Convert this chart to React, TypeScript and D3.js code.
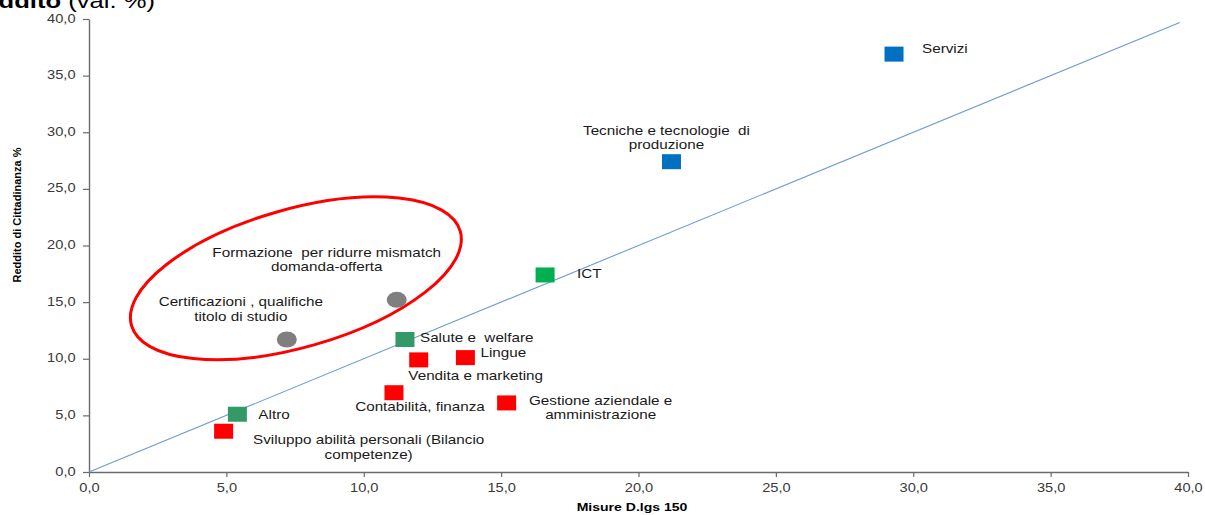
import { useEffect, useRef } from "react";
import * as d3 from "d3";

const W = 1205;
const H = 515;

// one entry per area of training; "\n" splits a label over two lines
const names = [
  "Servizi",
  "Tecniche e tecnologie  di\nproduzione",
  "ICT",
  "Formazione  per ridurre mismatch\ndomanda-offerta",
  "Certificazioni , qualifiche\ntitolo di studio",
  "Salute e  welfare",
  "Lingue",
  "Vendita e marketing",
  "Contabilità, finanza",
  "Gestione aziendale e\namministrazione",
  "Altro",
  "Sviluppo abilità personali (Bilancio\ncompetenze)",
];
// Misure D.lgs 150 (%)
const xValues = [29.3, 21.2, 16.6, 11.2, 7.2, 11.5, 13.7, 12.0, 11.1, 15.2, 5.4, 4.9];
// Reddito di Cittadinanza (%)
const yValues = [36.9, 27.4, 17.4, 15.2, 11.7, 11.7, 10.1, 9.9, 7.0, 6.1, 5.1, 3.6];
const groups = ["blue", "blue", "green", "grey", "grey", "teal", "red", "red", "red", "red", "teal", "red"];

const xTicks = [0, 5, 10, 15, 20, 25, 30, 35, 40];
const yTicks = [0, 5, 10, 15, 20, 25, 30, 35, 40];
const diagonal = [0, 39.7];

// label placement relative to the marker (px) – layout only
const labelLayout: { dx: number; dy: number; anchor: string }[] = [
  { dx: 28, dy: -1, anchor: "start" },
  { dx: -5, dy: -27, anchor: "middle" },
  { dx: 32, dy: 3, anchor: "start" },
  { dx: -70, dy: -43, anchor: "middle" },
  { dx: -46, dy: -33, anchor: "middle" },
  { dx: 15, dy: 3, anchor: "start" },
  { dx: 15, dy: -1, anchor: "start" },
  { dx: 57, dy: 20, anchor: "middle" },
  { dx: 26, dy: 18, anchor: "middle" },
  { dx: 94, dy: 2, anchor: "middle" },
  { dx: 21, dy: 5, anchor: "start" },
  { dx: 145, dy: 13, anchor: "middle" },
];

const colors: Record<string, string> = {
  blue: "#0070C0",
  green: "#00B050",
  teal: "#339966",
  red: "#FF0000",
  grey: "#7F7F7F",
};

const FONT = "'Liberation Sans', Arial, sans-serif";
const SX = 1.22; // the original picture is stretched horizontally

export default function App() {
  const svgRef = useRef<SVGSVGElement>(null);

  useEffect(() => {
    document.body.style.margin = "0";
    if (!svgRef.current) return;
    const svg = d3.select(svgRef.current);
    svg.selectAll("*").remove();

    const x = d3.scaleLinear().domain([0, 40]).range([89, 1188]);
    const y = d3.scaleLinear().domain([0, 40]).range([472, 19]);
    const fmt = (d: d3.NumberValue) => d3.format(".1f")(d as number).replace(".", ",");

    // Title (cut off at the top in the original)
    const title = svg
      .append("text")
      .attr("transform", `translate(155,8) scale(${SX},1)`)
      .attr("text-anchor", "end")
      .style("font-family", FONT)
      .style("font-size", "21px")
      .style("fill", "#000");
    title.append("tspan").style("font-weight", "bold").text("Reddito");
    title.append("tspan").text(" (val. %)");

    // Axes
    const yAxis = svg
      .append("g")
      .attr("transform", "translate(89,0)")
      .call(d3.axisLeft(y).tickValues(yTicks).tickFormat(fmt).tickSize(6).tickSizeOuter(0).tickPadding(5));
    const xAxis = svg
      .append("g")
      .attr("transform", "translate(0,472)")
      .call(d3.axisBottom(x).tickValues(xTicks).tickFormat(fmt).tickSize(5).tickSizeOuter(0).tickPadding(6));

    [xAxis, yAxis].forEach((ax) => {
      ax.select(".domain").attr("stroke", "#6b6b6b").attr("stroke-width", 1.4);
      ax.selectAll(".tick line").attr("stroke", "#6b6b6b").attr("stroke-width", 1.2);
      ax.selectAll(".tick text")
        .attr("transform", `scale(${SX},1)`)
        .style("font-family", FONT)
        .style("font-size", "12px")
        .style("fill", "#3a3a3a");
    });
    yAxis.selectAll(".tick text").attr("dy", "0.25em");

    // Axis titles
    svg
      .append("text")
      .attr("transform", `translate(632,511) scale(${SX},1)`)
      .attr("text-anchor", "middle")
      .style("font-family", FONT)
      .style("font-size", "11.5px")
      .style("font-weight", "bold")
      .style("fill", "#000")
      .text("Misure D.lgs 150");

    svg
      .append("text")
      .attr("transform", "translate(21,215) rotate(-90)")
      .attr("text-anchor", "middle")
      .style("font-family", FONT)
      .style("font-size", "11px")
      .style("font-weight", "bold")
      .style("fill", "#000")
      .text("Reddito di Cittadinanza %");

    // Bisector y = x
    svg
      .append("line")
      .attr("x1", x(diagonal[0]))
      .attr("y1", y(diagonal[0]))
      .attr("x2", x(diagonal[1]))
      .attr("y2", y(diagonal[1]))
      .attr("stroke", "#6E9BD3")
      .attr("stroke-width", 1.1);

    // Red highlight ellipse around the two grey points
    const ring = { cx: 7.53, cy: 17.1 };
    svg
      .append("ellipse")
      .attr("transform", `translate(${x(ring.cx)},${y(ring.cy)}) rotate(-16)`)
      .attr("rx", 171)
      .attr("ry", 69)
      .attr("fill", "none")
      .attr("stroke", "#FF0000")
      .attr("stroke-width", 3);

    // Markers
    const idx = d3.range(names.length);
    const marks = svg.append("g");
    idx.forEach((i) => {
      const cx = x(xValues[i]);
      const cy = y(yValues[i]);
      if (groups[i] === "grey") {
        marks
          .append("ellipse")
          .attr("cx", cx)
          .attr("cy", cy)
          .attr("rx", 10)
          .attr("ry", 8)
          .attr("fill", colors.grey);
      } else {
        marks
          .append("rect")
          .attr("x", cx - 9.5)
          .attr("y", cy - 7.5)
          .attr("width", 19)
          .attr("height", 15)
          .attr("fill", colors[groups[i]]);
      }
    });

    // Labels
    idx.forEach((i) => {
      const lay = labelLayout[i];
      const lx = x(xValues[i]) + lay.dx;
      const ly = y(yValues[i]) + lay.dy;
      names[i].split("\n").forEach((line, j) => {
        svg
          .append("text")
          .attr("transform", `translate(${lx},${ly + j * 14.5}) scale(${SX},1)`)
          .attr("text-anchor", lay.anchor)
          .style("font-family", FONT)
          .style("font-size", "12.5px")
          .style("white-space", "pre")
          .style("fill", "#1a1a1a")
          .text(line);
      });
    });
  }, []);

  return <svg ref={svgRef} width={W} height={H} style={{ display: "block", background: "#fff" }} />;
}
